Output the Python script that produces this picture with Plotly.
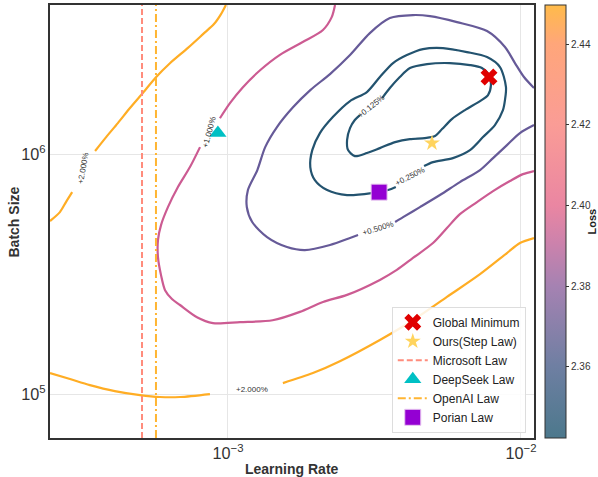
import numpy as np
import plotly.graph_objects as go

# ---------------- data ----------------
# contour +2.000% (upper-left branch, two pieces split by its label)
c2a_lr = [9.84e-4, 9.47e-4, 8.96e-4, 8.22e-4, 7.30e-4, 6.34e-4, 5.68e-4, 5.09e-4, 4.63e-4, 4.21e-4, 3.84e-4, 3.52e-4]
c2a_bs = [4.18e6, 3.83e6, 3.48e6, 3.16e6, 2.77e6, 2.39e6, 2.09e6, 1.78e6, 1.555e6, 1.346e6, 1.177e6, 1.03e6]
c2b_lr = [2.94e-4, 2.80e-4, 2.67e-4, 2.47e-4]
c2b_bs = [6.94e5, 6.31e5, 5.73e5, 5.26e5]
# contour +2.000% (lower branch)
c2c_lr = [2.47e-4, 2.89e-4, 3.38e-4, 4.11e-4, 5.01e-4, 5.86e-4, 6.86e-4, 8.68e-4]
c2c_bs = [1.223e5, 1.155e5, 1.090e5, 1.029e5, 9.90e4, 9.72e4, 9.72e4, 1.0e5]
c2d_lr = [1.54e-3, 1.95e-3, 2.41e-3, 3.30e-3, 4.28e-3, 5.59e-3, 7.25e-3, 8.96e-3, 9.92e-3, 1.108e-2]
c2d_bs = [1.111e5, 1.223e5, 1.37e5, 1.68e5, 2.03e5, 2.54e5, 3.16e5, 3.87e5, 4.26e5, 4.47e5]

# contour +1.000%
c1a_lr = [2.32e-3, 2.26e-3, 2.11e-3, 1.80e-3, 1.50e-3, 1.29e-3, 1.125e-3, 1.016e-3, 9.39e-4]
c1a_bs = [4.18e6, 3.72e6, 3.29e6, 2.93e6, 2.585e6, 2.24e6, 1.90e6, 1.63e6, 1.41e6]
c1b_lr = [8.03e-4, 7.42e-4, 6.75e-4, 6.24e-4, 5.91e-4, 5.77e-4, 5.77e-4, 5.91e-4, 6.10e-4, 6.44e-4,
          6.86e-4, 7.84e-4, 8.89e-4, 1.10e-3, 1.42e-3, 1.76e-3, 2.11e-3, 2.55e-3, 3.30e-3, 3.77e-3,
          4.28e-3, 5.01e-3, 5.59e-3, 6.19e-3, 7.08e-3, 8.03e-3, 9.17e-3, 1.016e-2, 1.108e-2]
c1b_bs = [1.069e6, 8.83e5, 7.29e5, 6.01e5, 5.06e5, 4.38e5, 3.72e5, 3.13e5, 2.71e5, 2.49e5,
          2.35e5, 2.09e5, 1.976e5, 1.995e5, 2.03e5, 2.20e5, 2.42e5, 2.59e5, 2.99e5, 3.29e5,
          3.69e5, 4.26e5, 4.92e5, 5.62e5, 6.31e5, 7.01e5, 7.72e5, 8.25e5, 8.50e5]

# contour +0.500%
c05a_lr = [1.108e-2, 1.024e-2, 9.54e-3, 8.82e-3, 7.66e-3, 6.05e-3, 4.89e-3, 4.28e-3, 3.57e-3, 3.05e-3,
           2.61e-3, 2.23e-3, 1.91e-3, 1.67e-3, 1.47e-3, 1.34e-3, 1.26e-3, 1.17e-3, 1.16e-3, 1.21e-3,
           1.36e-3, 1.59e-3, 1.83e-3, 2.23e-3, 2.61e-3, 2.78e-3]
c05a_bs = [1.884e6, 2.094e6, 2.394e6, 2.792e6, 3.255e6, 3.548e6, 3.758e6, 3.795e6, 3.687e6, 3.193e6,
           2.585e6, 2.154e6, 1.848e6, 1.570e6, 1.296e6, 1.069e6, 8.58e5, 7.08e5, 6.01e5, 5.21e5,
           4.51e5, 4.10e5, 3.98e5, 4.18e5, 4.47e5, 4.60e5]
c05b_lr = [3.72e-3, 3.96e-3, 4.52e-3, 5.29e-3, 6.19e-3, 7.25e-3, 8.03e-3, 8.96e-3, 9.92e-3, 1.108e-2]
c05b_bs = [5.21e5, 5.46e5, 6.01e5, 6.75e5, 7.64e5, 8.58e5, 9.62e5, 1.090e6, 1.223e6, 1.321e6]

# contour +0.250%
c025_lr = [4.67e-3, 5.01e-3, 5.86e-3, 6.70e-3, 7.42e-3, 8.15e-3, 8.68e-3, 8.82e-3, 8.89e-3, 8.48e-3,
           7.66e-3, 6.54e-3, 5.42e-3, 4.63e-3, 4.08e-3, 3.66e-3, 3.30e-3, 2.98e-3, 2.61e-3, 2.28e-3,
           2.06e-3, 1.94e-3, 1.91e-3, 1.98e-3, 2.18e-3, 2.55e-3, 3.10e-3, 3.52e-3, 3.74e-3]
c025_bs = [8.91e5, 9.26e5, 9.62e5, 1.039e6, 1.177e6, 1.321e6, 1.525e6, 1.679e6, 1.902e6, 2.304e6,
           2.536e6, 2.661e6, 2.765e6, 2.738e6, 2.585e6, 2.394e6, 2.094e6, 1.813e6, 1.663e6, 1.426e6,
           1.223e6, 1.039e6, 8.83e5, 7.79e5, 7.08e5, 6.75e5, 6.88e5, 7.08e5, 7.29e5]

# contour +0.125%
c0125_lr = [3.36e-3, 3.57e-3, 3.86e-3, 4.18e-3, 4.78e-3, 5.72e-3, 6.70e-3, 7.36e-3, 7.78e-3, 7.90e-3,
            7.72e-3, 7.25e-3, 6.44e-3, 5.81e-3, 5.38e-3, 5.09e-3, 4.70e-3, 4.18e-3, 3.72e-3, 3.30e-3,
            2.98e-3, 2.71e-3, 2.57e-3, 2.55e-3, 2.61e-3, 2.71e-3, 2.82e-3]
c0125_bs = [1.711e6, 1.884e6, 2.094e6, 2.282e6, 2.371e6, 2.394e6, 2.349e6, 2.282e6, 2.134e6, 1.939e6,
            1.761e6, 1.663e6, 1.525e6, 1.399e6, 1.271e6, 1.189e6, 1.166e6, 1.155e6, 1.122e6, 1.059e6,
            1.010e6, 9.81e5, 1.039e6, 1.144e6, 1.283e6, 1.386e6, 1.454e6]

# contour labels
label_text = ["+2.000%", "+1.000%", "+0.500%", "+0.250%", "+0.125%", "+2.000%"]
label_lr = [3.20e-4, 8.61e-4, 3.25e-3, 4.18e-3, 3.08e-3, 1.21e-3]
label_bs = [8.74e5, 1.235e6, 4.92e5, 8.10e5, 1.585e6, 1.049e5]
label_angle = [-80, -75, -17, -27, -39, 0]

# reference points / laws
global_min_lr, global_min_bs = 7.78e-3, 2.094e6
ours_lr, ours_bs = 4.97e-3, 1.111e6
deepseek_lr, deepseek_bs = 9.24e-4, 1.223e6
porian_lr, porian_bs = 3.28e-3, 6.94e5
microsoft_lr = 5.09e-4
openai_lr = 5.68e-4

# axis / colour-bar ranges
lr_range = [2.47e-4, 1.108e-2]
bs_range = [6.56e4, 4.18e6]
loss_range = [2.3424, 2.4497]
loss_ticks = [2.36, 2.38, 2.40, 2.42, 2.44]

# ---------------- styling ----------------
FONT = "Liberation Sans, Arial, sans-serif"
TEAL = "#23536f"
PURPLE = "#665a98"
PINK = "#cc5b92"
ORANGE = "#ffad24"

fig = go.Figure()


def add_line(xs, ys, color, width=2.2):
    fig.add_trace(go.Scatter(x=xs, y=ys, mode="lines",
                             line=dict(color=color, width=width, shape="spline", smoothing=0.8),
                             showlegend=False, hoverinfo="skip"))


add_line(c2a_lr, c2a_bs, ORANGE)
add_line(c2b_lr, c2b_bs, ORANGE)
add_line(c2c_lr, c2c_bs, ORANGE)
add_line(c2d_lr, c2d_bs, ORANGE)
add_line(c1a_lr, c1a_bs, PINK)
add_line(c1b_lr, c1b_bs, PINK)
add_line(c05a_lr, c05a_bs, PURPLE)
add_line(c05b_lr, c05b_bs, PURPLE)
add_line(c025_lr, c025_bs, TEAL)
add_line(c0125_lr, c0125_bs, TEAL)

# colour bar (invisible carrier trace)
fig.add_trace(go.Scatter(
    x=[lr_range[0], lr_range[0]], y=[bs_range[0], bs_range[0]], mode="markers",
    marker=dict(size=1, opacity=0, color=loss_range, cmin=loss_range[0], cmax=loss_range[1],
                colorscale=[[0, "#4c788c"], [0.164, "#6e7fa2"], [0.35, "#a582b2"], [0.45, "#cc82ac"],
                            [0.537, "#ea86a2"], [0.723, "#fa9c96"], [0.91, "#ffa67a"], [1, "#ffbb4a"]],
                showscale=True,
                colorbar=dict(x=1.0227, xanchor="left", xpad=0, y=0.5, yanchor="middle", ypad=0,
                              len=1.0, lenmode="fraction",
                              thickness=21, outlinecolor="#333333", outlinewidth=1,
                              tickvals=loss_ticks, ticktext=[f"{v:.2f}" for v in loss_ticks],
                              ticks="outside", ticklen=3, tickcolor="#333333",
                              tickfont=dict(size=10, color="#333333", family=FONT))),
    showlegend=False, hoverinfo="skip"))

# legend entries / markers
fig.add_trace(go.Scatter(x=[global_min_lr], y=[global_min_bs], mode="markers", name="Global Minimum",
                         marker=dict(symbol="x", size=15, color="#e00000", line=dict(width=0))))
fig.add_trace(go.Scatter(x=[ours_lr], y=[ours_bs], mode="markers", name="Ours(Step Law)",
                         marker=dict(symbol="star", size=12, color="#ffd45e", line=dict(width=0))))
fig.add_trace(go.Scatter(x=[microsoft_lr, microsoft_lr], y=bs_range, mode="lines", name="Microsoft Law",
                         line=dict(color="#ff8c7c", width=2, dash="6px,3px")))
fig.add_trace(go.Scatter(x=[deepseek_lr], y=[deepseek_bs], mode="markers", name="DeepSeek Law",
                         marker=dict(symbol="triangle-up", size=15, color="#00c0c4", line=dict(width=0))))
fig.add_trace(go.Scatter(x=[openai_lr, openai_lr], y=bs_range, mode="lines", name="OpenAI Law",
                         line=dict(color="#ffb533", width=2, dash="8px,3px,2px,3px")))
fig.add_trace(go.Scatter(x=[porian_lr], y=[porian_bs], mode="markers", name="Porian Law",
                         marker=dict(symbol="square", size=16, color="#9400d3",
                                     line=dict(width=1, color="#e8c8f0"))))

# contour labels
for t, lx, ly, a in zip(label_text, label_lr, label_bs, label_angle):
    fig.add_annotation(x=np.log10(lx), y=np.log10(ly), text=t, showarrow=False, textangle=a,
                       font=dict(size=8, color="#333333", family=FONT), xref="x", yref="y")

# colour-bar title
fig.add_annotation(x=1.1198, y=0.5, xref="paper", yref="paper", xanchor="center", yanchor="middle",
                   text="<b>Loss</b>", showarrow=False, textangle=-90,
                   font=dict(size=11, color="#222222", family=FONT))
# axis titles
fig.add_annotation(x=0.5, y=-0.072, xref="paper", yref="paper", xanchor="center", yanchor="middle",
                   text="<b>Learning Rate</b>", showarrow=False,
                   font=dict(size=14, color="#333333", family=FONT))
fig.add_annotation(x=-0.0744, y=0.5, xref="paper", yref="paper", xanchor="center", yanchor="middle",
                   text="<b>Batch Size</b>", showarrow=False, textangle=-90,
                   font=dict(size=14, color="#333333", family=FONT))

axis_common = dict(type="log", showgrid=True, gridcolor="#e6e6e6", gridwidth=1, zeroline=False,
                   showline=True, linecolor="#333333", linewidth=1.6, mirror=True, ticks="",
                   exponentformat="power", dtick=1, tickfont=dict(size=13, color="#333333", family=FONT))

fig.update_layout(
    width=598, height=477,
    margin=dict(l=50, r=64, t=5, b=39, autoexpand=False),
    paper_bgcolor="white", plot_bgcolor="white",
    font=dict(family=FONT, color="#333333"),
    xaxis=dict(range=[np.log10(lr_range[0]), np.log10(lr_range[1])], **axis_common),
    yaxis=dict(range=[np.log10(bs_range[0]), np.log10(bs_range[1])], **axis_common),
    legend=dict(x=0.983, xanchor="right", y=0.012, yanchor="bottom",
                bgcolor="rgba(255,255,255,0.85)", bordercolor="#dddddd", borderwidth=1,
                font=dict(size=12, color="#222222", family=FONT), tracegroupgap=0, itemwidth=30),
    showlegend=True,
)

fig.write_html("out.html", config={"displayModeBar": False},
               post_script="document.body.style.margin='0';document.body.style.padding='0';")
